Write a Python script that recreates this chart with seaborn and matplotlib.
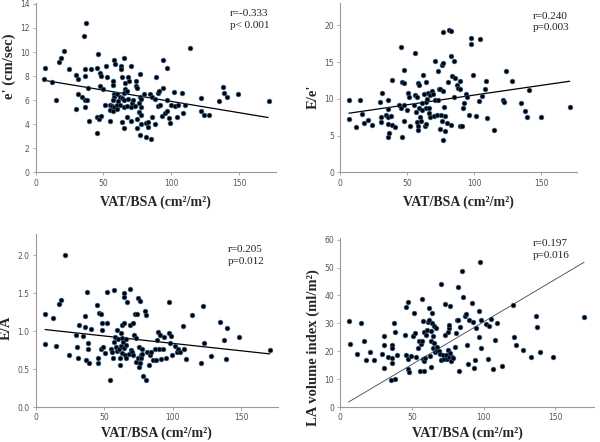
import matplotlib
matplotlib.use("Agg")
import matplotlib.pyplot as plt
import seaborn as sns
import pandas as pd

# ---- data ----
# panel A: e' (cm/sec)
vat_a = [6.9, 6.4, 11.8, 14.7, 17, 18.4, 20.9, 24.3, 30, 31, 30, 31, 34, 35.6, 37, 36.3, 36.3, 36.6, 38, 36,
         38.3, 39, 40.5, 45, 45, 46.2, 45.4, 46.7, 48.4, 47.4, 48, 47.4, 50, 51.6, 52.3, 50.8, 54.7, 55, 55, 56,
         57, 57, 58, 58.5, 58, 58, 57, 57, 58, 60, 60, 60, 62, 62, 61, 63, 63, 64, 64, 64,
         65, 65, 65, 65, 65, 66, 66, 67, 67, 67, 68, 69, 68, 70, 70, 70, 71, 72, 73, 74,
         74, 75, 75, 75, 76, 76, 77, 77, 77, 78, 78, 78, 78, 80, 81, 81, 83, 83, 84, 85,
         86, 86, 88, 88, 89, 90, 90, 91, 92, 93, 94, 94, 95, 97, 97, 97, 98, 99, 100, 102,
         103, 104, 105, 108, 109, 110, 114, 122, 122, 124, 128, 135, 138, 139, 141, 149, 172]
e_prime = [8.7, 7.8, 7.5, 6.0, 9.2, 9.5, 10.1, 8.6, 8.1, 7.8, 5.3, 6.5, 6.3, 11.3, 12.4, 8.6, 8.0, 6.0, 6.0, 5.4,
           7.0, 4.3, 8.6, 8.7, 3.3, 9.8, 4.6, 4.45, 4.7, 8.3, 8.0, 7.2, 6.9, 8.8, 7.9, 5.6, 4.3, 5.6, 5.2, 5.5,
           7.6, 7.3, 9.3, 9.0, 6.5, 6.3, 6.0, 5.1, 5.4, 6.5, 5.3, 5.6, 6.3, 5.6, 5.9, 8.8, 8.6, 7.9, 6.2, 4.2,
           9.5, 6.6, 6.0, 5.4, 3.7, 7.4, 6.9, 6.8, 4.6, 5.5, 7.9, 7.6, 6.1, 8.8, 4.3, 5.4, 5.8, 6.0, 5.5, 7.6,
           7.2, 7.0, 4.4, 3.7, 5.8, 5.0, 8.2, 6.3, 3.1, 6.1, 5.4, 4.8, 4.0, 6.5, 2.9, 4.1, 4.2, 3.8, 6.5, 2.8,
           6.3, 4.6, 6.1, 4.0, 7.9, 6.6, 5.5, 6.8, 5.6, 4.7, 7.0, 9.3, 4.9, 8.7, 6.0, 5.1, 4.5, 4.1, 5.6, 6.7,
           5.5, 4.6, 5.6, 6.6, 4.9, 5.6, 10.3, 6.2, 5.1, 4.8, 4.8, 5.9, 7.1, 6.6, 6.3, 6.5, 5.9]

# panel B: E/e'
vat_b = [6.2, 6.7, 12, 14.5, 16.2, 18, 20.7, 23.4, 29.4, 30.2, 31, 30.6, 34, 35.4, 36, 36, 36, 36, 36.6, 38,
         38.6, 38.9, 40.6, 44, 45.4, 45.4, 46, 46, 47.8, 47.8, 48, 47.8, 49.8, 50.6, 51.6, 52.3, 54.8, 55.6, 56, 56.6,
         57, 57.3, 57.8, 57.8, 58.3, 58.6, 58.6, 59.3, 60.3, 60.8, 61.3, 61.8, 62.3, 63, 63.8, 64, 64, 64.3, 64.8, 65.5,
         66, 66.3, 66.8, 67.3, 68.5, 69.3, 69.8, 70.5, 71, 72.3, 72.8, 72.8, 73.5, 74.3, 74.8, 75.5, 76, 76, 76.7, 76.7,
         76.7, 76.7, 77.7, 78, 78, 79.7, 80.5, 81, 82.7, 82.7, 83, 83.5, 84.7, 85.2, 86, 87.2, 88, 89.2, 89.7, 89.7,
         91.2, 91.5, 92.7, 94, 94.7, 96, 97.7, 97.7, 99.2, 101.4, 103.9, 104.7, 105.9, 107.9, 109, 110, 114.6, 121.6, 122, 124.1,
         128.3, 135, 138.3, 139.3, 140.8, 150, 171.9]
e_over_e = [9.9, 7.2, 6.2, 9.9, 8.0, 6.7, 7.1, 6.5, 9.6, 7.5, 10.8, 6.9, 7.8, 4.75, 9.9, 8.6, 7.6, 6.6, 5.4, 7.7,
            12.5, 6.5, 6.2, 9.2, 17.1, 8.7, 4.8, 12.3, 13.9, 12.2, 9.1, 7.0, 8.5, 10.8, 10.3, 6.3, 9.1, 16.2, 10.5, 8.2,
            10.3, 6.9, 6.3, 5.7, 12.2, 11.9, 8.7, 7.6, 7.0, 8.5, 9.5, 13.2, 10.7, 6.3, 12.3, 9.6, 8.7, 6.6, 10.0, 10.8,
            8.8, 8.1, 7.6, 10.5, 11.1, 10.6, 7.7, 15.2, 9.9, 7.8, 9.8, 13.8, 11.4, 5.9, 11.3, 7.8, 7.0, 14.6, 19.1, 14.9,
            11.1, 4.4, 8.9, 7.7, 5.6, 6.7, 12.3, 19.4, 19.2, 6.4, 15.8, 13.1, 15.2, 10.2, 12.9, 11.9, 11.5, 11.4, 12.4, 6.3,
            6.3, 8.7, 9.4, 10.7, 10.3, 7.8, 18.3, 17.5, 13.3, 7.7, 9.7, 18.1, 10.4, 11.4, 12.4, 7.4, 5.8, 9.8, 9.6, 13.8,
            12.4, 9.5, 8.3, 7.5, 11.2, 7.6, 8.9]

# panel C: E/A
vat_c = [6.9, 6.9, 12.3, 15, 17.2, 18.4, 21.1, 24.1, 29.7, 30.4, 31.4, 31.2, 34.6, 35.8, 36.3, 36.6, 37.3, 38, 38.3, 38.8,
         40.5, 45, 45.4, 45.7, 46.4, 47.4, 47.4, 48.4, 48.6, 49.3, 50.6, 51.8, 52.3, 54.1, 54.7, 56, 56.7, 57.4, 57.4, 58,
         58.3, 59, 59.4, 60.3, 61, 61.4, 61.8, 62.3, 62.6, 63.1, 63.1, 63.3, 64, 64.3, 64.6, 64.6, 64.8, 65.3, 65.8, 66,
         66.3, 67, 67.8, 68.5, 69.2, 69.5, 70, 70.7, 71.4, 71.9, 72.7, 73.2, 73.4, 73.9, 74.4, 74.4, 75.1, 75.6, 75.9, 76.4,
         76.6, 76.8, 77.3, 77.6, 78.1, 79.8, 80.3, 80.5, 81, 82.5, 83.2, 84.5, 85.4, 87.2, 87.9, 88.6, 89.6, 90.1, 91.1, 91.6,
         92.8, 94, 95, 97, 97.2, 98, 99, 99.4, 101.4, 103.1, 103.9, 105.6, 107.3, 108.3, 109.5, 114, 121, 121.8, 123, 127.9,
         134.3, 137.5, 138.8, 140, 148.8, 170.9]
e_over_a = [1.23, 0.83, 1.17, 0.81, 1.35, 1.41, 2.0, 0.69, 0.95, 0.79, 1.08, 0.65, 0.94, 1.05, 1.2, 0.62, 1.52, 0.77, 0.84, 0.58,
            1.03, 1.34, 0.58, 0.64, 1.24, 1.23, 0.76, 1.02, 1.1, 0.79, 0.71, 1.52, 1.11, 0.36, 0.76, 0.73, 0.65, 1.54, 0.85, 0.92,
            0.79, 0.74, 1.02, 0.89, 0.77, 0.65, 0.55, 0.97, 0.8, 1.08, 0.71, 0.91, 0.86, 1.5, 1.45, 1.1, 0.78, 0.69, 0.89, 0.82,
            0.65, 1.38, 0.7, 1.08, 1.56, 0.75, 0.72, 1.11, 0.68, 0.95, 1.22, 0.91, 0.59, 1.22, 1.44, 0.64, 0.53, 0.79, 0.58, 1.4,
            0.69, 0.64, 0.76, 0.7, 0.41, 1.26, 0.36, 1.21, 0.72, 0.55, 0.68, 0.73, 0.62, 0.76, 0.62, 0.88, 0.99, 0.77, 0.95, 0.63,
            0.77, 0.92, 0.64, 1.38, 0.98, 0.84, 0.94, 0.68, 0.8, 0.72, 0.77, 0.72, 1.07, 0.77, 0.63, 1.21, 0.58, 1.33, 0.84, 0.67,
            1.12, 0.88, 0.63, 1.04, 0.92, 0.75]

# panel D: LA volume index (ml/m2)
vat_d = [5.8, 6.9, 11.5, 14.3, 16.6, 18, 20.5, 23.8, 29.1, 30.2, 30.5, 30.5, 33.5, 35.1, 35.8, 35.8, 36, 36, 37.6, 38.1,
         38.3, 39.9, 45, 45.7, 46.1, 47.3, 47.5, 47.5, 48, 49.4, 50.8, 51.5, 52, 53.1, 54.2, 54.7, 55.8, 56.1, 57, 57.2,
         57.7, 57.7, 58.2, 58.4, 58.6, 59.3, 60, 60.7, 61.2, 61.6, 61.8, 62.3, 63, 63.2, 63.5, 63.9, 64.2, 64.6, 64.6, 65.1,
         65.5, 65.8, 66.5, 66.5, 67.4, 67.8, 68.8, 69.7, 70.2, 70.6, 71.5, 72.5, 73.4, 73.4, 73.9, 74.5, 75, 75, 75.7, 75.9,
         76.2, 76.6, 76.8, 77.3, 78, 78.5, 80.1, 80.8, 81.2, 81.9, 82.4, 82.6, 83.8, 84.7, 85.4, 87, 87.7, 88.6, 88.8, 90,
         91.6, 92.5, 93.5, 93.7, 94.6, 96.5, 96.9, 97.2, 98.1, 98.3, 101.5, 102.9, 103.8, 105, 106.9, 108, 109.2, 113.1, 120.2, 121.2,
         122.7, 127.6, 133.2, 136.6, 137.3, 139.6, 148.4, 170.1]
la_index = [30.7, 22.6, 19.1, 30.2, 23.8, 16.8, 19.7, 17, 18.9, 25.6, 22.3, 13.9, 17.8, 9.7, 22.2, 21.1, 15.9, 17.6, 30, 10,
            27, 18.5, 25.7, 36, 18.7, 17.3, 37.7, 13.8, 12.6, 18.3, 25.6, 33.8, 26.7, 17.8, 21.1, 23.5, 13, 22.6, 23.6, 38.9,
            31, 17.3, 16.4, 27, 13, 17.6, 26, 27.6, 30.6, 35.6, 31.2, 18.4, 14.5, 23.8, 27.3, 33.7, 30.2, 21.1, 25.5, 22.9,
            29, 19.9, 28.2, 20.8, 21.7, 20.2, 20.2, 19, 44.1, 16.7, 18.5, 17.3, 25.7, 36.8, 18.7, 17.3, 27, 20.5, 28.2, 29.4,
            18, 36.2, 19.3, 16.4, 17.9, 17.6, 21.6, 26.7, 31.2, 42.9, 31.3, 12.8, 28.8, 48.7, 39.5, 32.7, 33.4, 22.1, 15.5, 31.1,
            37.4, 30.4, 14, 16.8, 28.5, 25, 34.4, 51.9, 31.1, 21.2, 29.9, 17.1, 29.2, 31.5, 13.8, 24.2, 30.2, 14.7, 36.6, 25,
            22.2, 20.6, 18, 32.5, 28.7, 19.9, 17.9, 32.1]

# trend lines as drawn in the figure (end points)
line_x = [[6.4, 171.4], [6.5, 171.4], [6.9, 170.9], [5.8, 170.1]]
line_y = [[7.65, 4.56], [8.05, 12.4], [1.02, 0.70], [1.8, 51.9]]

stats = ["r=-0.333\np< 0.001", "r=0.240\np=0.003", "r=0.205\np=0.012", "r=0.197\np=0.016"]
ylabels = ["e' (cm/sec)", "E/e'", "E/A", "LA volume index (ml/m²)"]
xlabel = "VAT/BSA (cm²/m²)"

panels = [
    (vat_a, e_prime, [0.0595, 0.61, 0.40, 0.3825], (0, 14.05), [0, 2, 4, 6, 8, 10, 12, 14], "{:.0f}", (0.81, 0.965)),
    (vat_b, e_over_e, [0.567, 0.61, 0.395, 0.3825], (0, 23), [0, 5, 10, 15, 20], "{:.0f}", (0.813, 0.95)),
    (vat_c, e_over_a, [0.0595, 0.079, 0.404, 0.392], (0, 2.28), [0, 0.5, 1.0, 1.5, 2.0], "{:.1f}", (0.794, 0.935)),
    (vat_d, la_index, [0.567, 0.079, 0.423, 0.382], (0, 60.5), [0, 10, 20, 30, 40, 50, 60], "{:.0f}", (0.76, 0.995)),
]
ylab_y = [0.63, 0.45, 0.46, 0.35]
xlab_pad = [6, 6, 3, 3]

sns.set_style("ticks")
plt.rcParams["font.family"] = ["DejaVu Sans"]

fig = plt.figure(figsize=(6, 4.42), dpi=100)
grey = "#9a9a9a"

for i, (xs, ys, pos, ylim, yticks, fmt, tpos) in enumerate(panels):
    ax = fig.add_axes(pos)
    df = pd.DataFrame({"x": xs, "y": ys})
    sns.scatterplot(data=df, x="x", y="y", ax=ax, s=12, color="black",
                    edgecolor="#3a6ea5", linewidth=0.4, zorder=3)
    lw = 0.6 if i == 3 else 0.9
    lc = "#444444" if i == 3 else "black"
    ax.plot(line_x[i], line_y[i], color=lc, lw=lw, zorder=2)

    ax.set_xlim(0, 177)
    ax.set_ylim(*ylim)
    ax.set_xticks([0, 50, 100, 150])
    ax.set_yticks(yticks)
    ax.set_yticklabels([fmt.format(v) for v in yticks])
    ax.tick_params(labelsize=5.5, labelcolor="#555555", color=grey, length=2.5, width=0.6, pad=2)
    for side in ["top", "right"]:
        ax.spines[side].set_visible(False)
    for side in ["left", "bottom"]:
        ax.spines[side].set_color(grey)
        ax.spines[side].set_linewidth(0.8)

    ax.set_xlabel(xlabel, family="Liberation Serif", fontweight="bold", fontsize=10, labelpad=xlab_pad[i])
    ax.set_ylabel(ylabels[i], family="Liberation Serif", fontweight="bold", fontsize=10.5, labelpad=3)
    ax.yaxis.label.set_y(ylab_y[i])
    ax.text(tpos[0], tpos[1], stats[i], transform=ax.transAxes, va="top", ha="left",
            family="Liberation Serif", fontsize=8, color="#222222", linespacing=1.35)

fig.savefig("out.png", dpi=100)
